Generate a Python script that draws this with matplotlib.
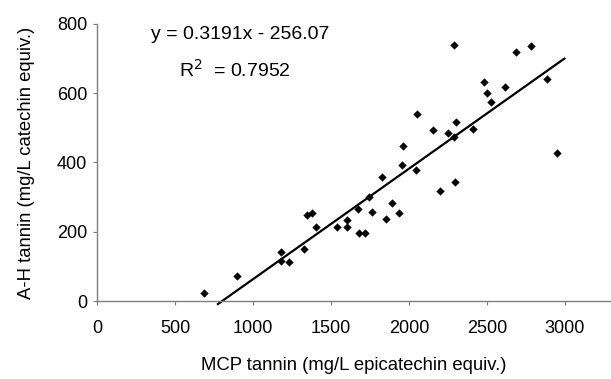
import matplotlib
matplotlib.use("Agg")
import matplotlib.pyplot as plt

plt.rcParams['font.family'] = ['Liberation Sans', 'DejaVu Sans']

mcp_tannin = [688, 895, 1177, 1177, 1233, 1329, 1344, 1378, 1404, 1540, 1600, 1604,
              1675, 1681, 1718, 1744, 1765, 1829, 1853, 1891, 1938, 1953, 1964, 2045,
              2053, 2152, 2199, 2252, 2290, 2290, 2295, 2301, 2412, 2479, 2502, 2523,
              2617, 2683, 2780, 2882, 2947]
ah_tannin = [22, 72, 142, 116, 113, 150, 249, 254, 213, 213, 234, 213,
             266, 197, 197, 301, 258, 357, 237, 283, 255, 393, 449, 378,
             540, 495, 319, 486, 474, 739, 345, 516, 498, 631, 601, 574,
             618, 718, 736, 641, 427]

slope = 0.3191
intercept = -256.07
trend_x = [775, 2996]
eq_text = "y = 0.3191x - 256.07"
r2_text = "R$^2$  = 0.7952"

x_ticks = [0, 500, 1000, 1500, 2000, 2500, 3000]
y_ticks = [0, 200, 400, 600, 800]

fig = plt.figure(figsize=(6.11, 3.79), dpi=100)
ax = fig.add_axes([0.1588, 0.2058, 0.8412, 0.731])

ax.scatter(mcp_tannin, ah_tannin, marker='D', s=18, color='black', zorder=3, linewidths=0)
ty = [slope * x + intercept for x in trend_x]
ax.plot(trend_x, ty, color='black', lw=1.6, clip_on=False, zorder=2)

ax.set_xlim(0, 3295)
ax.set_ylim(0, 800)
ax.set_xticks(x_ticks)
ax.set_yticks(y_ticks)
ax.spines['top'].set_visible(False)
ax.spines['right'].set_visible(False)
for s in ['left', 'bottom']:
    ax.spines[s].set_color('#7f7f7f')
    ax.spines[s].set_linewidth(1.0)
ax.tick_params(axis='both', colors='#7f7f7f', length=3, width=0.8, labelcolor='black', labelsize=13, direction='out')
ax.tick_params(axis='x', pad=11)
ax.tick_params(axis='y', pad=4)

ax.set_xlabel("MCP tannin (mg/L epicatechin equiv.)", fontsize=13.3, labelpad=14)
ax.set_ylabel("A-H tannin (mg/L catechin equiv.)", fontsize=13.3, labelpad=16)

ax.text(917, 770, eq_text, ha='center', va='center', fontsize=14)
ax.text(885, 667, r2_text, ha='center', va='center', fontsize=14)

fig.savefig("out.png", dpi=100)
